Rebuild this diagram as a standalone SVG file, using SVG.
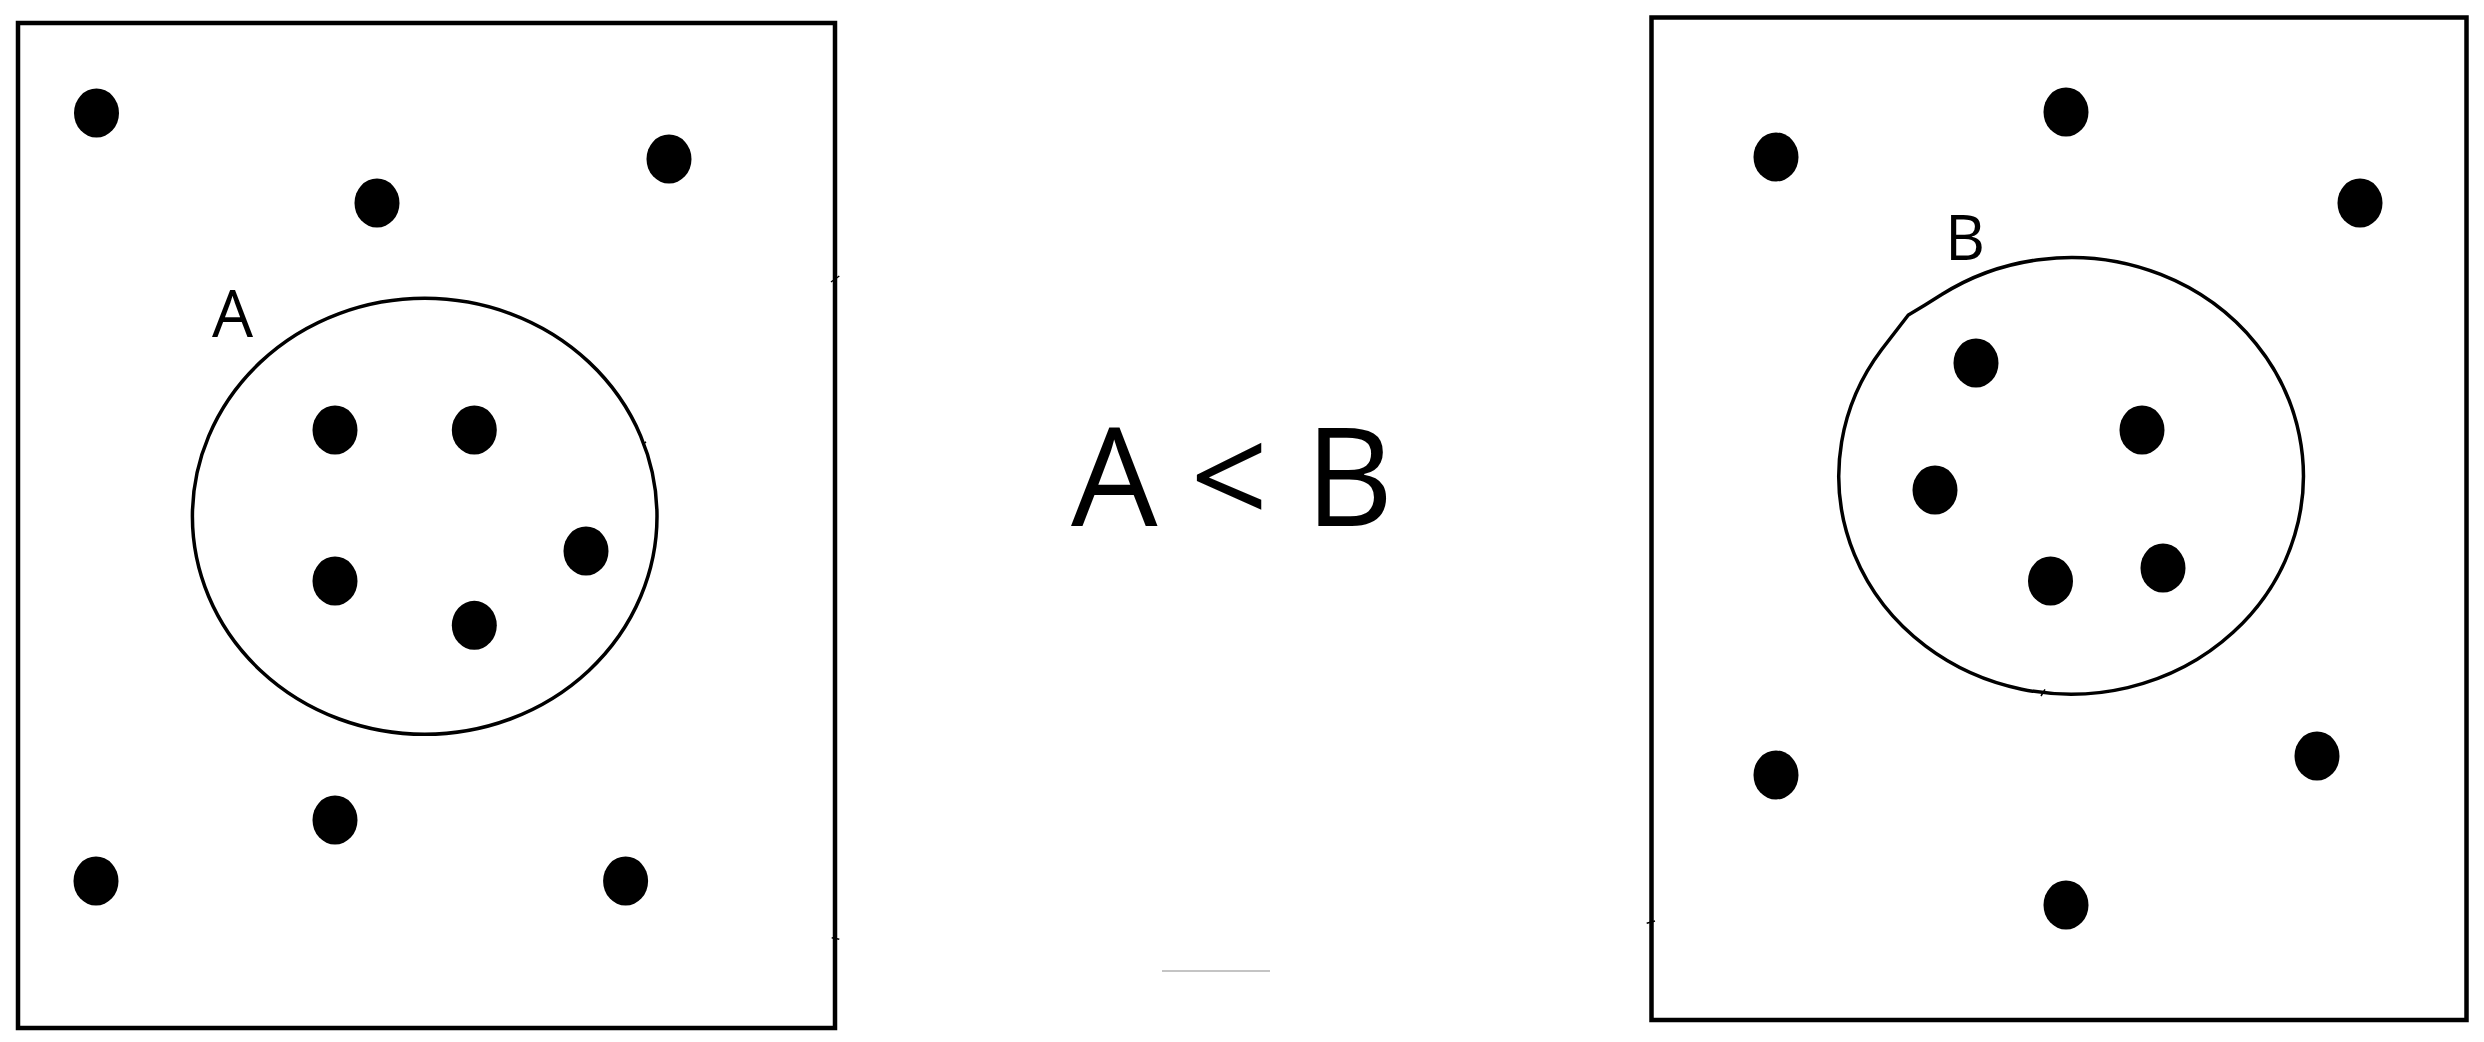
<svg xmlns="http://www.w3.org/2000/svg" width="2484" height="1042" viewBox="0 0 2484 1042">
<style>
.frame{fill:none;stroke:#000;stroke-width:4.5}
.set{fill:none;stroke:#000;stroke-width:3.5}
.dot{fill:#000}
.tick{stroke:#000;stroke-width:1.5;fill:none}
.lbl{font-family:"Open Sans","Noto Sans","Liberation Sans",sans-serif;fill:#000}
</style>
<rect width="2484" height="1042" fill="#fff"/>
<g id="panel-left">
  <rect class="frame" x="18" y="23" width="817" height="1005"/>
  <ellipse id="set-A" class="set" cx="424.7" cy="516.3" rx="232.3" ry="218"/>
  <text class="lbl" x="212" y="337" font-size="65">A</text>
  <g id="dots-left">
    <ellipse class="dot" cx="96.5" cy="113" rx="22.5" ry="24.5"/>
    <ellipse class="dot" cx="377" cy="203" rx="22.5" ry="24.5"/>
    <ellipse class="dot" cx="669" cy="159" rx="22.5" ry="24.5"/>
    <ellipse class="dot" cx="335" cy="430" rx="22.5" ry="24.5"/>
    <ellipse class="dot" cx="474.3" cy="430" rx="22.5" ry="24.5"/>
    <ellipse class="dot" cx="586" cy="551" rx="22.5" ry="24.5"/>
    <ellipse class="dot" cx="335" cy="581" rx="22.5" ry="24.5"/>
    <ellipse class="dot" cx="474.3" cy="625.3" rx="22.5" ry="24.5"/>
    <ellipse class="dot" cx="335" cy="820" rx="22.5" ry="24.5"/>
    <ellipse class="dot" cx="96" cy="881" rx="22.5" ry="24.5"/>
    <ellipse class="dot" cx="625.6" cy="881" rx="22.5" ry="24.5"/>
  </g>
  <path class="tick" d="M831 282 L839.3 276 M831.7 937.7 L839.3 939.3 M642.7 445 L646 441.7"/>
</g>
<g id="relation">
  <text class="lbl" font-size="137" font-weight="500" y="525.5" x="1071 1150 1190 1265 1305">A &lt; B</text>
  <line x1="1162" y1="971" x2="1270" y2="971" stroke="#b0b0b0" stroke-width="1.5"/>
</g>
<g id="panel-right">
  <rect class="frame" x="1651.5" y="17.5" width="815" height="1002.5"/>
  <path id="set-B" class="set" d="M1941.7 294.6 A232.3 218.3 0 1 1 1881.7 349.5 L1908.3 315 L1925 305 L1941.7 294.6"/>
  <text class="lbl" x="1945" y="260" font-size="62">B</text>
  <g id="dots-right">
    <ellipse class="dot" cx="1776" cy="157" rx="22.5" ry="24.5"/>
    <ellipse class="dot" cx="2066" cy="112" rx="22.5" ry="24.5"/>
    <ellipse class="dot" cx="2360" cy="203" rx="22.5" ry="24.5"/>
    <ellipse class="dot" cx="1976" cy="363" rx="22.5" ry="24.5"/>
    <ellipse class="dot" cx="2142" cy="430" rx="22.5" ry="24.5"/>
    <ellipse class="dot" cx="1935" cy="490" rx="22.5" ry="24.5"/>
    <ellipse class="dot" cx="2050.5" cy="581" rx="22.5" ry="24.5"/>
    <ellipse class="dot" cx="2163" cy="568" rx="22.5" ry="24.5"/>
    <ellipse class="dot" cx="1776" cy="775" rx="22.5" ry="24.5"/>
    <ellipse class="dot" cx="2317" cy="756" rx="22.5" ry="24.5"/>
    <ellipse class="dot" cx="2066" cy="905" rx="22.5" ry="24.5"/>
  </g>
  <path class="tick" d="M1646.7 923.3 L1655 921 M2041 696 L2045 689.3"/>
</g>
</svg>
